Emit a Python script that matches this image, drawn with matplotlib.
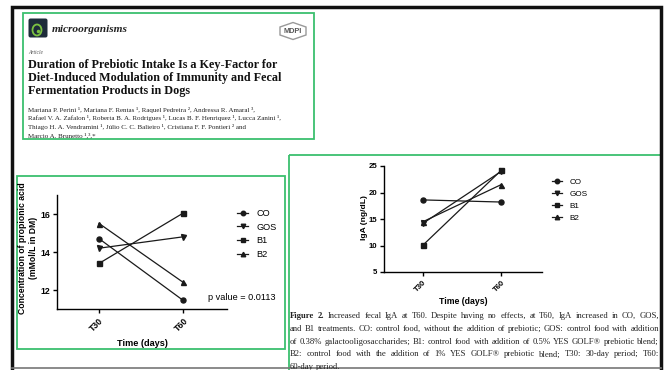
import matplotlib
matplotlib.use('Agg')
import matplotlib.pyplot as plt
import numpy as np
from matplotlib.patches import Rectangle, Polygon, Ellipse, FancyBboxPatch
from matplotlib.font_manager import FontProperties

# data
times = ['T30', 'T60']
groups = ['CO', 'GOS', 'B1', 'B2']
markers = ['o', 'v', 's', '^']

propionic_co = [14.7, 11.45]
propionic_gos = [14.2, 14.8]
propionic_b1 = [13.4, 16.05]
propionic_b2 = [15.5, 12.4]

iga_co = [18.6, 18.2]
iga_gos = [14.2, 24.0]
iga_b1 = [10.1, 24.2]
iga_b2 = [14.5, 21.5]

title_lines = ['Duration of Prebiotic Intake Is a Key-Factor for',
               'Diet-Induced Modulation of Immunity and Fecal',
               'Fermentation Products in Dogs']
author_lines = ['Mariana P. Perini \u00b9, Mariana F. Rentas \u00b9, Raquel Pedreira \u00b2, Andressa R. Amaral \u00b3,',
                'Rafael V. A. Zafalon \u00b9, Roberta B. A. Rodrigues \u00b9, Lucas B. F. Henriquez \u00b9, Lucca Zanini \u00b9,',
                'Thiago H. A. Vendramini \u00b9, J\u00falio C. C. Balieiro \u00b9, Cristiana F. F. Pontieri \u00b2 and',
                'Marcio A. Brunetto \u00b9,\u00b3,*']
caption_lines = ['Figure 2. Increased fecal IgA at T60. Despite having no effects, at T60, IgA increased in CO, GOS,',
                 'and B1 treatments. CO: control food, without the addition of prebiotic; GOS: control food with addition',
                 'of 0.38% galactooligosaccharides; B1: control food with addition of 0.5% YES GOLF\u00ae prebiotic blend;',
                 'B2: control food with the addition of 1% YES GOLF\u00ae prebiotic blend; T30: 30-day period; T60:',
                 '60-day period.']

W, H = 667, 370
fig = plt.figure(figsize=(6.67, 3.70), dpi=100)
bg = fig.add_axes([0, 0, 1, 1])
bg.set_xlim(0, W)
bg.set_ylim(H, 0)
bg.axis('off')
renderer = fig.canvas.get_renderer()

SERIF = 'Liberation Serif'
SANS = 'Liberation Sans'
GREEN = '#3cbf6e'


def text_width(s, fp):
    w, h, d = renderer.get_text_width_height_descent(s, fp, ismath=False)
    return w


def fit_size(s, target, **kw):
    fp = FontProperties(family=SERIF, size=10, **kw)
    return 10 * target / text_width(s, fp)


# frame and green boxes
bg.plot([12, 12, 661, 661], [372, 7, 7, 372], color='#111111', lw=2.5, solid_joinstyle='miter')
bg.plot([12, 661], [368, 368], color='#777777', lw=1.2)
for x0, y0, x1, y1 in [(23, 13, 314, 139), (17, 176, 285, 349), (289, 155, 661, 380)]:
    bg.add_patch(Rectangle((x0, y0), x1 - x0, y1 - y0, fill=False, ec=GREEN, lw=1.3))

# journal logo
bg.add_patch(FancyBboxPatch((28.5, 18.5), 19, 19, boxstyle='round,pad=0,rounding_size=2',
                            fc='#1d2b3a', ec='none'))
bg.add_patch(Ellipse((37, 30), 9, 11, fill=False, ec='#7cc242', lw=1.3))
bg.add_patch(Ellipse((38.5, 31.5), 3.5, 3.5, fc='#7cc242', ec='none'))
bg.text(52, 29, 'microorganisms', family=SERIF, style='italic', weight='bold',
        size=fit_size('microorganisms', 76, style='italic', weight='bold'), va='center', color='#222222')

# MDPI logo
hx, hy = 293, 31
bg.add_patch(Polygon([(hx - 13, hy - 4), (hx, hy - 8.5), (hx + 13, hy - 4), (hx + 13, hy + 4),
                      (hx, hy + 8.5), (hx - 13, hy + 4)], closed=True, fill=False, ec='#999999', lw=1))
bg.text(hx, hy + 0.5, 'MDPI', family=SANS, weight='bold', size=5.3, ha='center', va='center', color='#555555')

bg.text(28, 53, 'Article', family=SERIF, style='italic', size=4, va='center', color='#555555')

ts = fit_size(title_lines[1], 254, weight='bold')
for i, s in enumerate(title_lines):
    bg.text(28, 65 + 13 * i, s, family=SERIF, weight='bold', size=ts, va='center', color='#111111')

asz = fit_size(author_lines[1], 254)
for i, s in enumerate(author_lines):
    bg.text(28, 110 + 8.4 * i, s, family=SERIF, size=asz, va='center', color='#222222')


def px_axes(x0, y0, x1, y1):
    return fig.add_axes([x0 / W, 1 - y1 / H, (x1 - x0) / W, (y1 - y0) / H])


def draw_chart(ax, series, ylim, yticks, tick_fs):
    x = np.arange(len(times))
    for vals, m, g in zip(series, markers, groups):
        ax.plot(x, vals, color='#1a1a1a', lw=0.9, marker=m, ms=3.6, label=g)
    ax.set_xlim(-0.5, 1.52)
    ax.set_ylim(*ylim)
    ax.set_yticks(yticks)
    ax.set_xticks(x)
    ax.set_xticklabels(times, rotation=45, ha='right', rotation_mode='anchor')
    ax.tick_params(labelsize=tick_fs, length=3, width=1, pad=2)
    for lab in ax.get_xticklabels() + ax.get_yticklabels():
        lab.set_fontweight('bold')
        lab.set_family(SANS)
    ax.spines['top'].set_visible(False)
    ax.spines['right'].set_visible(False)
    ax.spines['left'].set_linewidth(1)
    ax.spines['bottom'].set_linewidth(1)
    ax.patch.set_alpha(0)


# left chart: propionic acid
ax1 = px_axes(57, 195, 227, 309)
draw_chart(ax1, [propionic_co, propionic_gos, propionic_b1, propionic_b2], (11, 17), [12, 14, 16], 6.3)
ax1.legend(loc='upper left', bbox_to_anchor=(237 / W, 1 - 209 / H), bbox_transform=fig.transFigure,
           frameon=False, borderpad=0, borderaxespad=0, handlelength=1.2, handletextpad=0.9,
           labelspacing=0.5, markerscale=0.9, prop=FontProperties(family=SANS, size=6.6))
bg.text(28, 248, 'Concentration of propionic acid\n(mMol/L in DM)', family=SANS, weight='bold',
        size=6.2, rotation=90, ha='center', va='center', multialignment='center', linespacing=1.15)
bg.text(142, 343, 'Time (days)', family=SANS, weight='bold', size=6.6, ha='center', va='center')
bg.text(208, 298, 'p value = 0.0113', family=SANS, size=6.6, va='center')

# right chart: IgA
ax2 = px_axes(384, 166, 542, 272)
draw_chart(ax2, [iga_co, iga_gos, iga_b1, iga_b2], (5, 25), [5, 10, 15, 20, 25], 5.6)
ax2.legend(loc='upper left', bbox_to_anchor=(552 / W, 1 - 178.5 / H), bbox_transform=fig.transFigure,
           frameon=False, borderpad=0, borderaxespad=0, handlelength=1.25, handletextpad=0.85,
           labelspacing=0.5, markerscale=0.9, prop=FontProperties(family=SANS, size=5.9))
bg.text(365, 218, 'IgA (ng/dL)', family=SANS, weight='bold', size=6.1, rotation=90,
        ha='center', va='center')
bg.text(463, 301, 'Time (days)', family=SANS, weight='bold', size=6.3, ha='center', va='center')

# caption, justified
cap_fs = fit_size(caption_lines[1], 362)
fp_n = FontProperties(family=SERIF, size=cap_fs)
fp_b = FontProperties(family=SERIF, size=cap_fs, weight='bold')
space_w = text_width('a a', fp_n) - text_width('aa', fp_n)
for i, line in enumerate(caption_lines):
    words = line.split()
    props = [fp_b if (i == 0 and j < 2) else fp_n for j in range(len(words))]
    widths = [text_width(w, p) for w, p in zip(words, props)]
    last = i == len(caption_lines) - 1
    gap = space_w if last else (659 - 290 - sum(widths)) / (len(words) - 1)
    xx = 290
    for w, p, wd in zip(words, props, widths):
        bg.text(xx, 316 + 12.8 * i, w, fontproperties=p, va='center', color='#222222')
        xx += wd + gap

fig.savefig('out.png', dpi=100)
